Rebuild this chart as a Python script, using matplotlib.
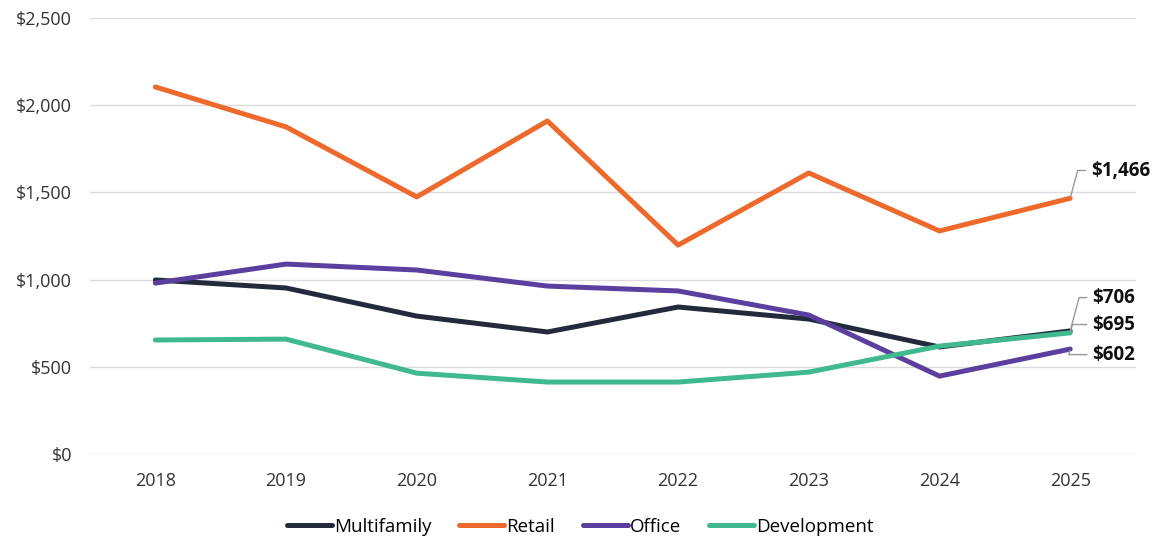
import matplotlib.pyplot as plt
from matplotlib.ticker import FuncFormatter

years = [2018, 2019, 2020, 2021, 2022, 2023, 2024, 2025]
multifamily = [998, 952, 791, 700, 843, 774, 614, 706]
retail = [2104, 1875, 1474, 1909, 1198, 1611, 1279, 1466]
office = [980, 1089, 1055, 963, 935, 797, 447, 602]
development = [654, 659, 464, 413, 413, 470, 619, 695]

series = [
    ('Multifamily', multifamily, '#232a3b'),
    ('Retail', retail, '#ee6a2c'),
    ('Office', office, '#5b3f9f'),
    ('Development', development, '#40b98f'),
]

# end labels: (series values, offset in points)
end_labels = [
    (retail, (15, 20)),
    (multifamily, (16, 24)),
    (development, (16, 6)),
    (office, (16, -4)),
]

plt.rcParams['font.family'] = ['Open Sans', 'DejaVu Sans']

fig = plt.figure(figsize=(11.54, 5.4), dpi=100)
ax = fig.add_axes([0.078, 0.159, 0.906, 0.808])

for name, vals, col in series:
    ax.plot(years, vals, color=col, lw=3.6, label=name, solid_capstyle='round')

for vals, off in end_labels:
    ax.annotate('${:,}'.format(vals[-1]), xy=(years[-1], vals[-1]), xytext=off,
                textcoords='offset points', ha='left', va='center',
                fontsize=13.5, fontweight='bold', color='#111111',
                arrowprops=dict(arrowstyle='-', color='#999999', lw=1,
                                shrinkA=2, shrinkB=1,
                                connectionstyle='angle,angleA=0,angleB=75,rad=0'))

ax.set_xlim(2017.5, 2025.5)
ax.set_ylim(0, 2500)
ax.set_yticks(range(0, 2501, 500))
ax.set_xticks(years)
ax.yaxis.set_major_formatter(FuncFormatter(lambda v, p: '${:,.0f}'.format(v)))
ax.grid(axis='y', color='#dcdcdc', lw=1)
ax.set_axisbelow(True)
for s in ax.spines.values():
    s.set_visible(False)
ax.tick_params(length=0, labelsize=13, colors='#333333')
ax.tick_params(axis='y', pad=13)
ax.tick_params(axis='x', pad=13)

ax.legend(loc='center', bbox_to_anchor=(0.469, -0.167), ncol=4, frameon=False,
          fontsize=13.5, handlelength=2.4, handletextpad=0.1, columnspacing=1.5)

fig.savefig('out.png', dpi=100)
